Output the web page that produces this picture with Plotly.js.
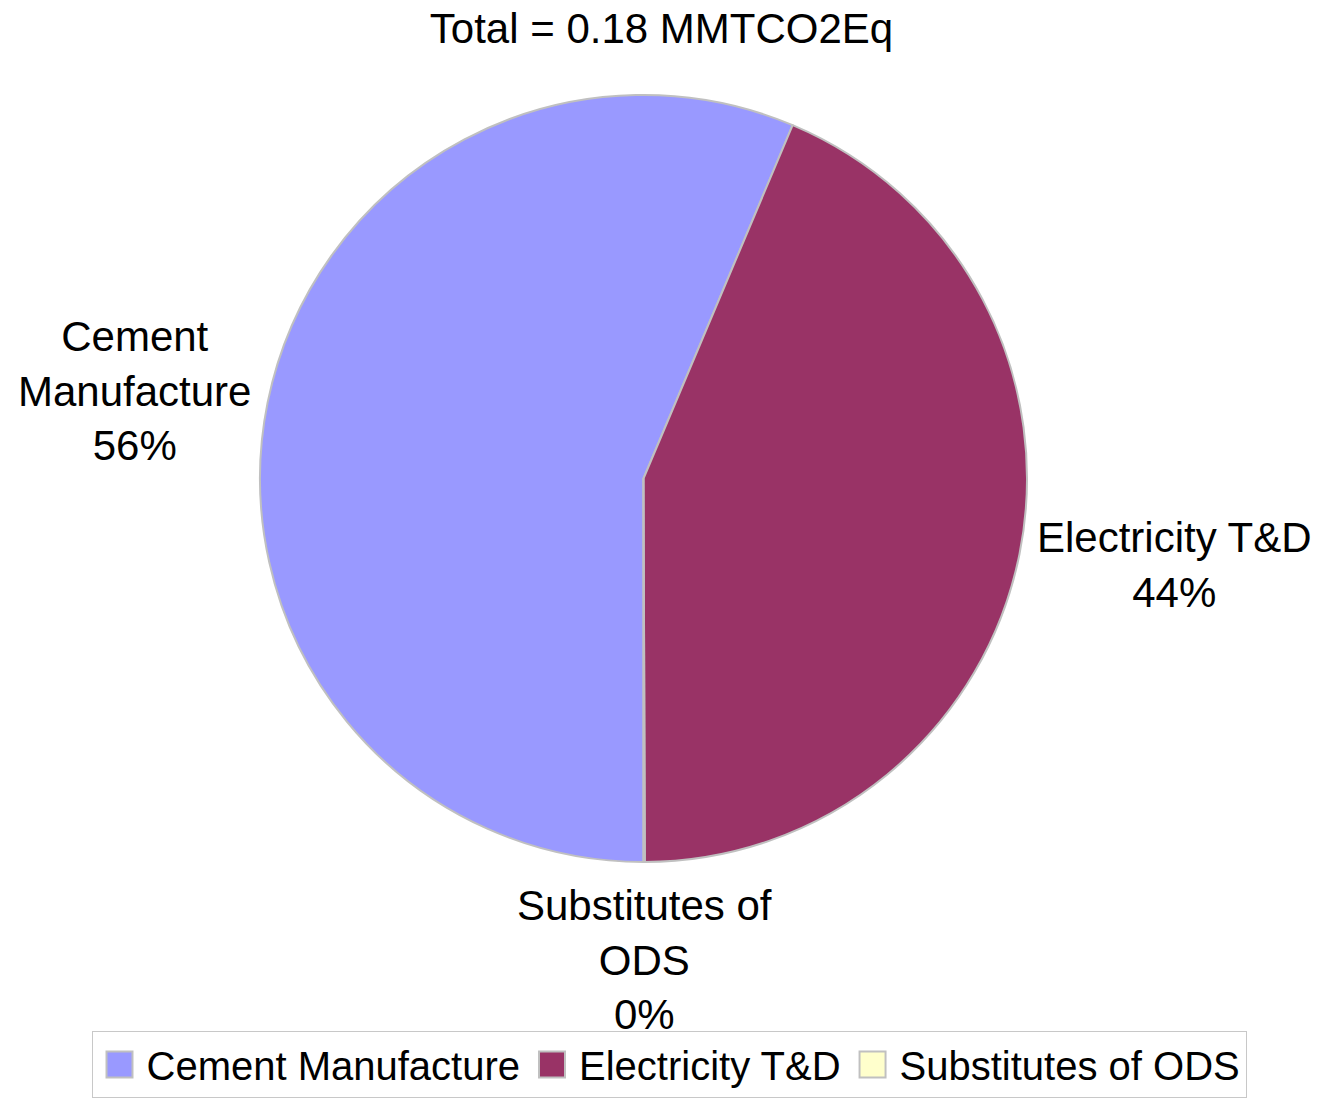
<!DOCTYPE html>
<html>
<head>
<meta charset="utf-8">
<script src="https://cdn.plot.ly/plotly-3.0.1.min.js"></script>
<style>
  html, body { margin: 0; padding: 0; background: #ffffff; }
  #chart { width: 1323px; height: 1100px; }
</style>
</head>
<body>
<div id="chart"></div>
<script>
// ---- data ----
const categories = ["Cement Manufacture", "Electricity T&D", "Substitutes of ODS"];
const labelLines = ["Cement<br>Manufacture", "Electricity T&D", "Substitutes of<br>ODS"];
const values = [0.1015, 0.0785, 0.0001];
const sliceColors = ["#9999FF", "#993366", "#FFFFCC"];
const titleText = "Total = 0.18 MMTCO2Eq";

// ---- layout geometry ----
const W = 1323, H = 1100;
const M = { l: 0, r: 36, t: 95, b: 238 };
const plotW = W - M.l - M.r, plotH = H - M.t - M.b;
const R = Math.min(plotW, plotH) / 2;
const ROT = 180;          // first slice starts at 6 o'clock
const FONT = '"Liberation Sans", Arial, Helvetica, sans-serif';

const total = values.reduce((a, b) => a + b, 0);

// label annotations placed at each slice's mid-angle, just outside the pie
const annotations = [];
let start = ROT;
values.forEach((v, i) => {
  const frac = v / total;
  const mid = (start + frac * 360 / 2) * Math.PI / 180;
  start += frac * 360;
  const s = Math.sin(mid), c = Math.cos(mid);
  const rr = R * 1.04;
  const x = 0.5 + (rr * s) / plotW;
  const y = 0.5 + (rr * c) / plotH;
  annotations.push({
    xref: 'paper', yref: 'paper', x: x, y: y,
    xanchor: s > 0.3 ? 'left' : (s < -0.3 ? 'right' : 'center'),
    yanchor: c < -0.7 ? 'top' : (c > 0.7 ? 'bottom' : 'middle'),
    yshift: 12 * c - (Math.abs(c) > 0.7 ? 0 : 6 * Math.sign(s)) + (c < -0.7 ? 9 : 0),
    text: labelLines[i] + '<br>' + Math.round(frac * 100) + '%',
    showarrow: false,
    align: 'center',
    font: { family: FONT, size: 42, color: '#000000' }
  });
});

const trace = {
  type: 'pie',
  labels: categories,
  values: values,
  sort: false,
  direction: 'clockwise',
  rotation: ROT,
  textinfo: 'none',
  hoverinfo: 'label+percent',
  marker: { colors: sliceColors, line: { color: '#C0C0C0', width: 2 } },
  domain: { x: [0, 1], y: [0, 1] }
};

const layout = {
  width: W, height: H,
  margin: { l: M.l, r: M.r, t: M.t, b: M.b, autoexpand: false },
  paper_bgcolor: '#ffffff',
  plot_bgcolor: '#ffffff',
  font: { family: FONT, color: '#000000' },
  title: {
    text: titleText,
    font: { family: FONT, size: 42, color: '#000000' },
    x: 0.5, xref: 'container', xanchor: 'center',
    y: 1 - 28 / H, yref: 'container', yanchor: 'middle'
  },
  showlegend: true,
  legend: {
    orientation: 'h',
    x: 669 / plotW, xanchor: 'center',
    y: -(1098 - (H - M.b)) / plotH, yanchor: 'bottom',
    font: { family: FONT, size: 40, color: '#000000' },
    bgcolor: '#ffffff',
    bordercolor: '#C8C8C8',
    borderwidth: 1,
    itemwidth: 44,
    traceorder: 'normal'
  },
  annotations: annotations
};

Plotly.newPlot('chart', [trace], layout, { staticPlot: true, displayModeBar: false }).then(() => {
  document.querySelectorAll('.legendpie').forEach(p => {
    p.setAttribute('d', 'M13,13H-13V-13H13Z');
  });
});
</script>
</body>
</html>
